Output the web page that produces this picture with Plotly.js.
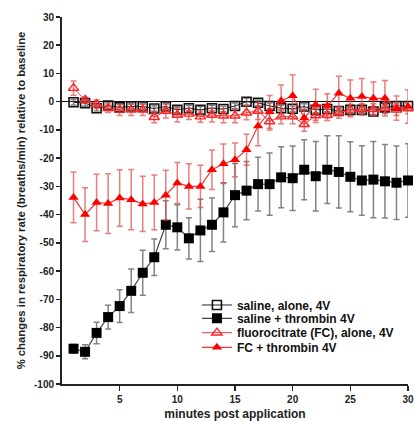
<!DOCTYPE html>
<html><head><meta charset="utf-8">
<script src="https://cdn.plot.ly/plotly-3.0.1.min.js"></script>
<style>html,body{margin:0;padding:0;background:#fff}#chart{width:414px;height:421px}</style>
</head><body><div id="chart"></div>
<script>
var minutes = [1,2,3,4,5,6,7,8,9,10,11,12,13,14,15,16,17,18,19,20,21,22,23,24,25,26,27,28,29,30];
var xTickVals = [5,10,15,20,25,30];
var yTickVals = [30,20,10,0,-10,-20,-30,-40,-50,-60,-70,-80,-90,-100];

var salineAlone = [-0.2,-0.5,-2.3,-1.4,-2.0,-1.7,-1.7,-2.4,-1.7,-2.9,-2.3,-2.9,-2.3,-2.6,-1.5,0.0,-0.4,-1.5,-2.3,-2.5,-1.7,-2.9,-2.6,-3.3,-2.9,-2.9,-3.5,-2.0,-1.5,-1.5];
var salineAloneErr = [1,1,1,1.2,1,1,1,1,1,1,1,1.2,1,1,1,1.2,1,1,1,1,1,1,1,1,1,1,1,1,1,1];

var salineThrombin = [-87.5,-88.6,-81.9,-76.3,-72.4,-67.0,-60.6,-55.1,-43.6,-44.5,-48.4,-45.6,-43.6,-39.2,-33.1,-31.5,-29.2,-29.2,-26.8,-27.1,-24.1,-26.4,-24.1,-24.9,-26.6,-27.9,-27.6,-28.2,-28.7,-27.9];
var salineThrombinErr = [1.5,2.5,3.8,4.2,5.8,7.7,8,6.5,8.5,8,7.3,11,9.5,10.5,11.2,10.3,9.5,11,10.8,11.4,10.6,12.3,12,12.8,12.4,12.3,13.5,13,13,13];

var fcAlone = [4.8,0.6,-0.9,-2.3,-2.9,-2.9,-2.9,-5.5,-3.3,-4.7,-4.3,-5.3,-4.7,-5.0,-5.0,-3.9,-3.3,-7.0,-5.3,-5.3,-8.0,-4.9,-4.7,-3.9,-2.9,-2.7,-2.7,-2.3,-2.9,-2.3];
var fcAloneErr = [2.5,1,1.5,1.5,2,2,2,2,2.5,2.5,2,2,2.5,2.5,2.5,2.5,3,3,2.5,2.5,2.5,2.5,2,2,2,2,2,2,2,2];

var fcThrombin = [-33.9,-40.0,-35.7,-36.1,-34.1,-34.7,-36.2,-35.7,-33.1,-28.8,-30.0,-30.0,-24.1,-22.0,-20.6,-17.0,-8.6,-3.6,0.3,2.1,-5.8,-1.1,-1.5,3.0,1.2,1.8,1.2,1.2,-2.3,-1.7];
var fcThrombinErr = [9,9.5,10,10.6,10,10.7,9.8,9.7,8.8,7.3,8,7.5,7,7,6,5.5,7,5.8,5.6,7.4,3,5.5,4.3,6,6.5,6.4,5.8,6.3,4.3,5.9];

var names = ['saline, alone, 4V','saline + thrombin 4V','fluorocitrate (FC), alone, 4V','FC + thrombin 4V'];

var grayErr = {type:'data', visible:true, color:'rgba(90,90,90,0.75)', thickness:1.5, width:3};
var redErr = {type:'data', visible:true, color:'rgba(225,70,70,0.7)', thickness:1.5, width:3};

function errCfg(base, arr){ var o = Object.assign({}, base); o.array = arr; return o; }

var traces = [
  {x:minutes, y:salineAlone, name:names[0], legend:'legend', type:'scatter', mode:'lines+markers', cliponaxis:false,
   line:{color:'#222', width:1}, marker:{symbol:'square-open', size:9, color:'#111', line:{width:1.6, color:'#111'}},
   error_y: errCfg(grayErr, salineAloneErr)},
  {x:minutes, y:salineThrombin, name:names[1], legend:'legend2', type:'scatter', mode:'lines+markers', cliponaxis:false,
   line:{color:'#444', width:1.2}, marker:{symbol:'square', size:10, color:'#000'},
   error_y: errCfg(grayErr, salineThrombinErr)},
  {x:minutes, y:fcAlone, name:names[2], legend:'legend3', type:'scatter', mode:'lines+markers', cliponaxis:false,
   line:{color:'#e83a3a', width:1}, marker:{symbol:'triangle-up-open', size:9, color:'#ff2020', line:{width:1.4, color:'#ff2020'}},
   error_y: errCfg(redErr, fcAloneErr)},
  {x:minutes, y:fcThrombin, name:names[3], legend:'legend4', type:'scatter', mode:'lines+markers', cliponaxis:false,
   line:{color:'#e83a3a', width:1.2}, marker:{symbol:'triangle-up', size:9, color:'#ff0000'},
   error_y: errCfg(redErr, fcThrombinErr)}
];

var legFont = {family:'Liberation Sans, Arial, sans-serif', size:12, color:'#111', weight:'bold'};
function leg(y){ return {x:0.39, y:y, xanchor:'left', yanchor:'middle', bgcolor:'rgba(0,0,0,0)', font:legFont, itemwidth:30, borderwidth:0}; }

var tickFont = {family:'Liberation Sans, Arial, sans-serif', size:10, color:'#222', weight:'bold'};

var layout = {
  width:414, height:421,
  margin:{l:62, r:6, t:17, b:37},
  paper_bgcolor:'#fff', plot_bgcolor:'#fff',
  showlegend:true,
  legend: leg(0.2153),
  legend2: leg(0.179),
  legend3: leg(0.1398),
  legend4: leg(0.100),
  xaxis:{range:[0,30], tickvals:xTickVals, ticktext:xTickVals.map(String), showgrid:false, zeroline:false,
         showline:true, linecolor:'#222', linewidth:2, ticks:'outside', ticklen:5, tickwidth:1.5, tickcolor:'#222',
         tickfont:tickFont,
         title:{text:'minutes post application', font:{family:'Liberation Sans, Arial, sans-serif', size:12, color:'#222', weight:'bold'}, standoff:15}},
  yaxis:{range:[-100,30], tickvals:yTickVals, ticktext:yTickVals.map(String), showgrid:false,
         zeroline:true, zerolinecolor:'#111', zerolinewidth:1.6,
         showline:true, linecolor:'#222', linewidth:2, ticks:'outside', ticklen:4, tickwidth:1.5, tickcolor:'#222',
         tickfont:tickFont,
         title:{text:'% changes in respiratory rate (breaths/min) relative to baseline', font:{family:'Liberation Sans, Arial, sans-serif', size:11.3, color:'#222', weight:'bold'}, standoff:6}}
};

Plotly.newPlot('chart', traces, layout, {displayModeBar:false, staticPlot:true});
</script>
</body></html>
